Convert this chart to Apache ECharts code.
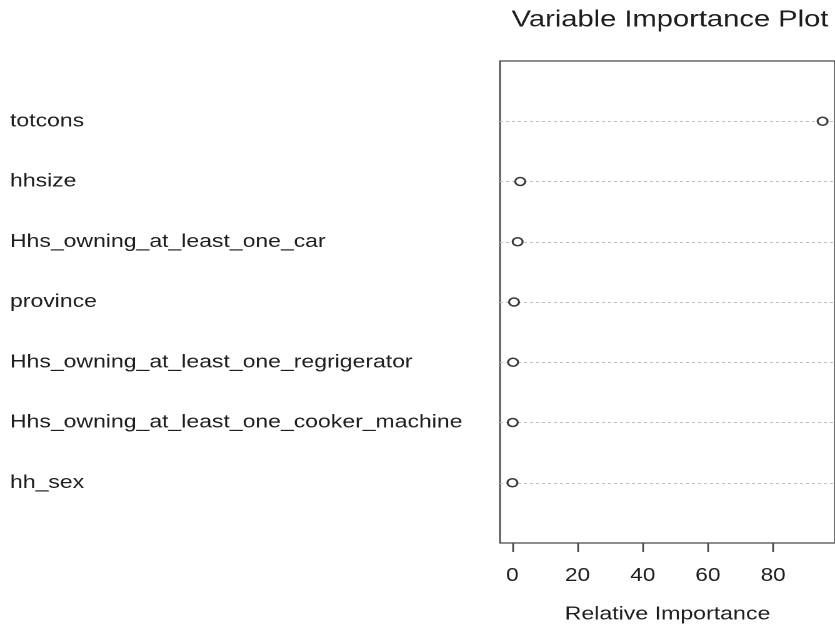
<!DOCTYPE html>
<html>
<head>
<meta charset="utf-8">
<script src="https://cdn.jsdelivr.net/npm/echarts@6/dist/echarts.min.js"></script>
<style>
  html, body { margin: 0; padding: 0; background: #fff; overflow: hidden; }
  #wrap { width: 835px; height: 630px; overflow: hidden; }
  /* the plot is drawn at a narrower width and stretched horizontally */
  #chart { width: 668px; height: 630px; transform: scaleX(1.25); transform-origin: 0 0; }
</style>
</head>
<body>
<div id="wrap"><div id="chart"></div></div>
<script>
// Variables, top to bottom, and their relative importance
const variables = [
  'totcons',
  'hhsize',
  'Hhs_owning_at_least_one_car',
  'province',
  'Hhs_owning_at_least_one_regrigerator',
  'Hhs_owning_at_least_one_cooker_machine',
  'hh_sex'
];
const importance = [95.2, 2.4, 1.6, 0.5, 0.2, 0.1, 0.0];
const xTicks = [0, 20, 40, 60, 80];
const titleText = 'Variable Importance Plot';
const xTitle = 'Relative Importance';

// dot-chart rows: first variable on top
const n = variables.length;
const rowPos = variables.map((_, i) => n - i);
const labelAt = {};
variables.forEach((v, i) => { labelAt[rowPos[i]] = v; });

// x range padded by 4% on each side
const lo = Math.min(...importance), hi = Math.max(...importance);
const pad = (hi - lo) * 0.04;

const textColor = '#1e1e1e';
const frameColor = '#4a4a4a';
const font = 'Liberation Sans, Arial, Helvetica, sans-serif';

const chart = echarts.init(document.getElementById('chart'), null, { renderer: 'canvas', devicePixelRatio: 2 });
chart.setOption({
  animation: false,
  backgroundColor: '#fff',
  graphic: [{
    type: 'text', x: 536, y: 20,
    style: { text: titleText, align: 'center', verticalAlign: 'middle',
      font: '23.3px ' + font, fill: textColor }
  }],
  grid: {
    left: 400, top: 61, width: 272, height: 482,
    show: true, borderColor: frameColor, borderWidth: 1.3, backgroundColor: 'transparent'
  },
  xAxis: {
    type: 'value', min: lo - pad, max: hi + pad,
    axisLine: { show: false },
    splitLine: { show: false },
    axisTick: { show: true, inside: false, length: 9, customValues: xTicks,
      lineStyle: { color: frameColor, width: 1.4 } },
    axisLabel: { customValues: xTicks, margin: 24, fontSize: 18, fontFamily: font, color: textColor },
    name: xTitle, nameLocation: 'middle', nameGap: 62,
    nameTextStyle: { fontSize: 18.5, fontFamily: font, color: textColor }
  },
  yAxis: {
    type: 'value', min: 0, max: n + 1, interval: 1,
    axisLine: { show: false }, axisTick: { show: false }, splitLine: { show: false },
    axisLabel: {
      align: 'left', margin: 392, fontSize: 18.4, fontFamily: font, color: textColor,
      formatter: v => labelAt[v] || ''
    }
  },
  series: [{
    type: 'scatter',
    data: importance.map((v, i) => [v, rowPos[i]]),
    symbol: 'circle', symbolSize: 8,
    itemStyle: { color: '#fff', borderColor: '#383838', borderWidth: 1.6, opacity: 1 },
    z: 5,
    markLine: {
      silent: true, symbol: ['none', 'none'], z: 1,
      label: { show: false },
      lineStyle: { type: [2.4, 2.4], color: '#bdbdbd', width: 1 },
      data: rowPos.map(p => ({ yAxis: p }))
    }
  }]
});
</script>
</body>
</html>
